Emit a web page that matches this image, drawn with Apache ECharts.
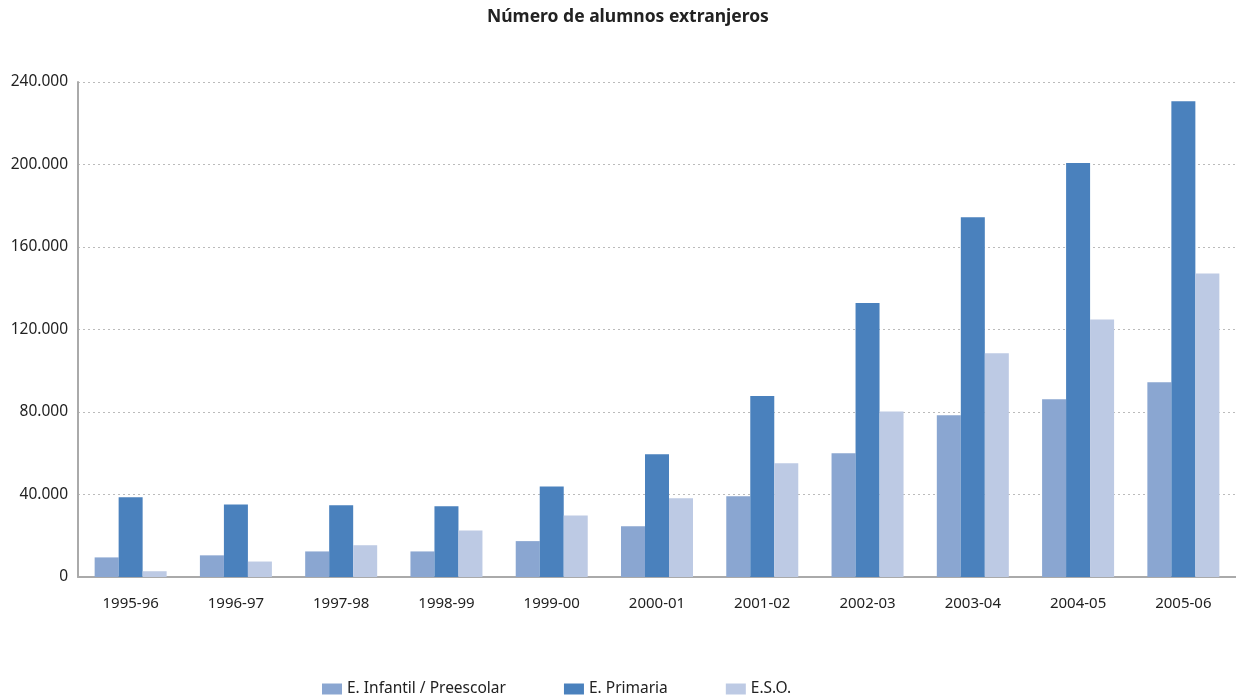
<!DOCTYPE html>
<html>
<head>
<meta charset="utf-8">
<script src="https://cdn.jsdelivr.net/npm/echarts@6/dist/echarts.min.js"></script>
<style>html,body{margin:0;padding:0;background:#fff;}#c{width:1236px;height:699px;}</style>
</head>
<body>
<div id="c"></div>
<script>
const categories = ['1995-96','1996-97','1997-98','1998-99','1999-00','2000-01','2001-02','2002-03','2003-04','2004-05','2005-06'];
const infantil = [9500, 10500, 12400, 12400, 17400, 24600, 39200, 60000, 78400, 86200, 94400];
const primaria = [38700, 35200, 34800, 34300, 43900, 59500, 87700, 132800, 174400, 200700, 230700];
const eso = [2800, 7500, 15400, 22600, 29800, 38200, 55100, 80300, 108500, 124900, 147200];
const seriesNames = ['E. Infantil / Preescolar', 'E. Primaria', 'E.S.O.'];
const yTicks = {min: 0, max: 240000, interval: 40000};

const font = 'Noto Sans';
const chart = echarts.init(document.getElementById('c'));
const fmt = v => v === 0 ? '0' : v.toString().replace(/\B(?=(\d{3})+(?!\d))/g, '.');
chart.setOption({
  animation: false,
  textStyle: {fontFamily: font},
  title: {
    text: 'Número de alumnos extranjeros',
    left: 482,
    top: 3,
    textStyle: {fontFamily: font, fontSize: 17.5, fontWeight: 'bold', color: '#222'}
  },
  legend: {
    left: 317,
    top: 676,
    itemWidth: 20,
    itemHeight: 11,
    itemGap: 58,
    icon: 'rect',
    textStyle: {fontFamily: font, fontSize: 15.5, color: '#222'},
    data: seriesNames
  },
  grid: {left: 78, right: 0, top: 82, bottom: 122, containLabel: false},
  xAxis: {
    type: 'category',
    data: categories,
    axisLine: {lineStyle: {color: '#aaaaaa', width: 2}},
    axisTick: {show: false},
    axisLabel: {fontFamily: font, fontSize: 15, color: '#222', margin: 19}
  },
  yAxis: {
    type: 'value',
    min: yTicks.min, max: yTicks.max, interval: yTicks.interval,
    axisLine: {show: true, lineStyle: {color: '#aaaaaa', width: 2}},
    axisTick: {show: false},
    axisLabel: {fontFamily: font, fontSize: 15.5, color: '#222', margin: 10, formatter: fmt},
    splitLine: {show: true, lineStyle: {color: '#bbbbbb', type: [2, 3], width: 1}}
  },
  series: [
    {name: seriesNames[0], type: 'bar', data: infantil, barWidth: 24, barGap: '0%', itemStyle: {color: '#8AA6D1'}},
    {name: seriesNames[1], type: 'bar', data: primaria, barWidth: 24, barGap: '0%', itemStyle: {color: '#4A81BD'}},
    {name: seriesNames[2], type: 'bar', data: eso, barWidth: 24, barGap: '0%', itemStyle: {color: '#BDCAE4'}}
  ]
});
</script>
</body>
</html>
